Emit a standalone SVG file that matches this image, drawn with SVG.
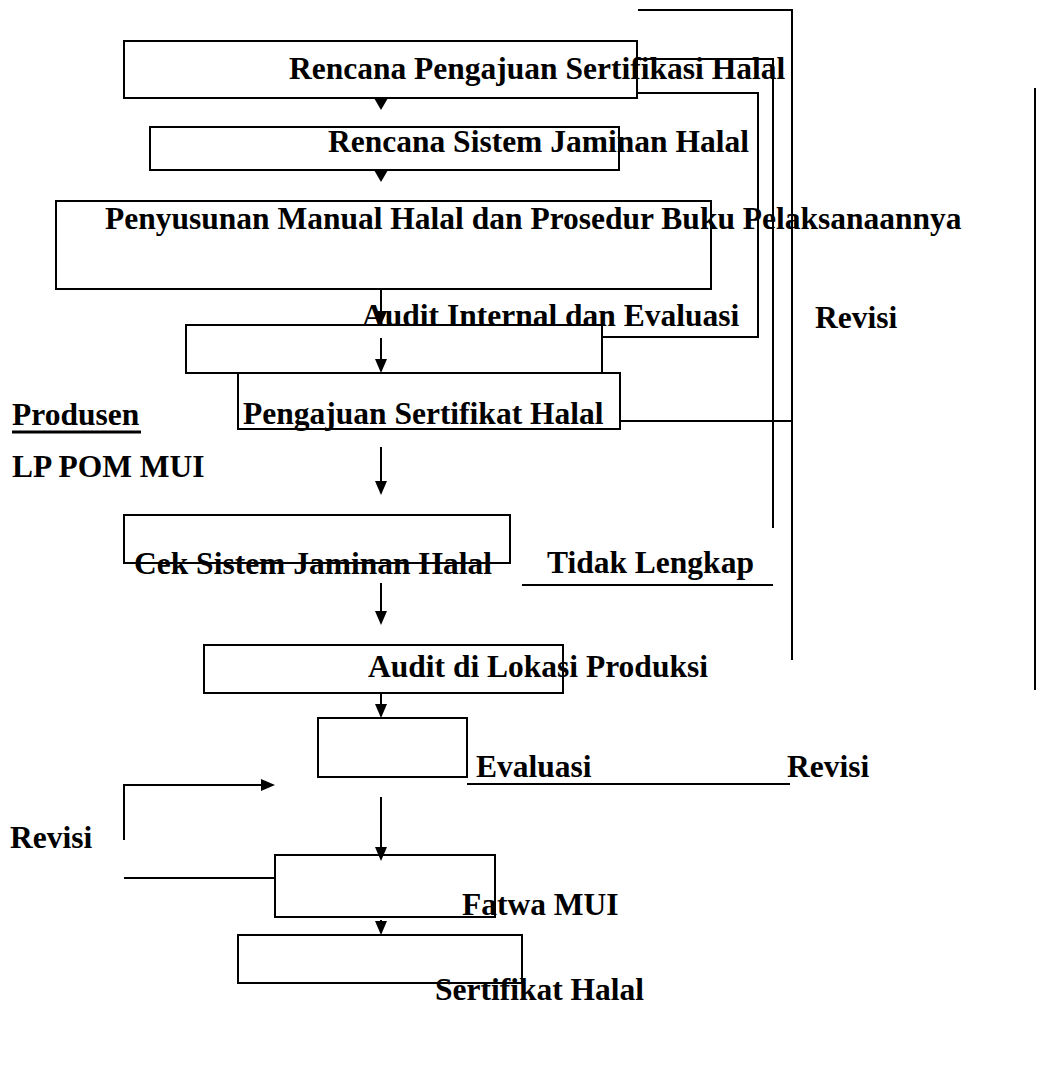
<svg xmlns="http://www.w3.org/2000/svg" width="1058" height="1079" viewBox="0 0 1058 1079">
<style>
.box{fill:none;stroke:#000;stroke-width:2}
.ln{fill:none;stroke:#000;stroke-width:2}
.t{font-family:"Liberation Serif","Times New Roman",serif;font-weight:bold;font-size:31.5px;fill:#000}
.ah{fill:#000}
</style>
<rect width="1058" height="1079" fill="#fff"/>
<g id="connectors">
<path class="ln" d="M638,10 H792 V660"/>
<path class="ln" d="M637,59 H773 V528"/>
<path class="ln" d="M637,93 H758 V337 H602"/>
<path class="ln" d="M620,421 H792"/>
<path class="ln" d="M1035,88 V690"/>
<polygon class="ah" points="374,98 388,98 381,110"/>
<polygon class="ah" points="374,170 388,170 381,182"/>
<path class="ln" d="M381,289 V312"/>
<polygon class="ah" points="375,311 387,311 381,325"/>
<path class="ln" d="M381,338 V360"/>
<polygon class="ah" points="375,359 387,359 381,373"/>
<path class="ln" d="M381,447 V482"/>
<polygon class="ah" points="375,481 387,481 381,495"/>
<path class="ln" d="M381,583 V612"/>
<polygon class="ah" points="375,611 387,611 381,625"/>
<path class="ln" d="M381,693 V705"/>
<polygon class="ah" points="375,704 387,704 381,718"/>
<path class="ln" d="M522,585 H773"/>
<path class="ln" d="M467,784 H790"/>
<path class="ln" d="M124,840 V785 H262"/>
<polygon class="ah" points="261,779 261,791 275,785"/>
<path class="ln" d="M381,797 V848"/>
<polygon class="ah" points="375,847 387,847 381,861"/>
<path class="ln" d="M124,878 H275"/>
<path class="ln" d="M381,920 V922"/>
<polygon class="ah" points="375,921 387,921 381,935"/>
</g>
<g id="n1"><rect class="box" x="124" y="41" width="513" height="57"/><text class="t" x="289" y="79">Rencana Pengajuan Sertifikasi Halal</text></g>
<g id="n2"><rect class="box" x="150" y="127" width="469" height="43"/><text class="t" x="328" y="152">Rencana Sistem Jaminan Halal</text></g>
<g id="n3"><rect class="box" x="56" y="201" width="655" height="88"/><text class="t" x="105" y="229">Penyusunan Manual Halal dan Prosedur Buku Pelaksanaannya</text></g>
<g id="n4"><rect class="box" x="186" y="325" width="416" height="48"/><text class="t" x="362" y="326">Audit Internal dan Evaluasi</text></g>
<g id="n5"><rect class="box" x="238" y="373" width="382" height="56"/><text class="t" x="243" y="424">Pengajuan Sertifikat Halal</text></g>
<g id="n6"><rect class="box" x="124" y="515" width="386" height="48"/><text class="t" x="134" y="574">Cek Sistem Jaminan Halal</text></g>
<g id="n7"><rect class="box" x="204" y="645" width="359" height="48"/><text class="t" x="368" y="677">Audit di Lokasi Produksi</text></g>
<g id="n8"><rect class="box" x="318" y="718" width="149" height="59"/><text class="t" x="476" y="777">Evaluasi</text></g>
<g id="n9"><rect class="box" x="275" y="855" width="220" height="62"/><text class="t" x="462" y="915">Fatwa MUI</text></g>
<g id="n10"><rect class="box" x="238" y="935" width="284" height="48"/><text class="t" x="435" y="1000">Sertifikat Halal</text></g>
<g id="labels">
<text class="t" x="815" y="328">Revisi</text>
<text class="t" x="12" y="425">Produsen</text>
<path class="ln" d="M12,432 H141" style="stroke-width:3"/>
<text class="t" x="12" y="477">LP POM MUI</text>
<text class="t" x="547" y="573">Tidak Lengkap</text>
<text class="t" x="787" y="777">Revisi</text>
<text class="t" x="10" y="848">Revisi</text>
</g>
</svg>
